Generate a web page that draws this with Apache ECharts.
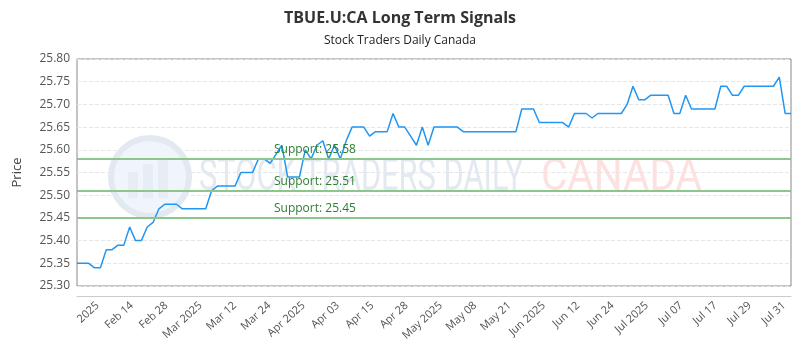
<!DOCTYPE html>
<html>
<head>
<meta charset="utf-8">
<script src="https://cdn.jsdelivr.net/npm/echarts@6/dist/echarts.min.js"></script>
<style>html,body{margin:0;padding:0;background:#fff}#c{width:800px;height:350px}</style>
</head>
<body>
<div id="c"></div>
<script>
const titleText = 'TBUE.U:CA Long Term Signals';
const subtitleText = 'Stock Traders Daily Canada';
const tickLabels = ['2025','Feb 14','Feb 28','Mar 2025','Mar 12','Mar 24','Apr 2025','Apr 03','Apr 15','Apr 28',
  'May 2025','May 08','May 21','Jun 2025','Jun 12','Jun 24','Jul 2025','Jul 07','Jul 17','Jul 29','Jul 31'];
const prices = [
  25.35,25.35,25.35,25.34,25.34,25.38,25.38,25.39,25.39,25.43,
  25.40,25.40,25.43,25.44,25.47,25.48,25.48,25.48,25.47,25.47,
  25.47,25.47,25.47,25.51,25.52,25.52,25.52,25.52,25.55,25.55,
  25.55,25.58,25.58,25.57,25.59,25.61,25.54,25.54,25.54,25.60,
  25.58,25.61,25.62,25.58,25.61,25.58,25.62,25.65,25.65,25.65,
  25.63,25.64,25.64,25.64,25.68,25.65,25.65,25.63,25.61,25.65,
  25.61,25.65,25.65,25.65,25.65,25.65,25.64,25.64,25.64,25.64,
  25.64,25.64,25.64,25.64,25.64,25.64,25.69,25.69,25.69,25.66,
  25.66,25.66,25.66,25.66,25.65,25.68,25.68,25.68,25.67,25.68,
  25.68,25.68,25.68,25.68,25.70,25.74,25.71,25.71,25.72,25.72,
  25.72,25.72,25.68,25.68,25.72,25.69,25.69,25.69,25.69,25.69,
  25.74,25.74,25.72,25.72,25.74,25.74,25.74,25.74,25.74,25.74,
  25.76,25.68,25.68
];
const supports = [25.58, 25.51, 25.45];
const supportPrefix = 'Support: ';
const watermarkMain = 'STOCK TRADERS DAILY';
const watermarkSub = 'CANADA';

const pointIndex = prices.map((_, i) => String(i));
// label axis: slots so labels land where the reference puts them
const SLOTS = 105, FIRST = 3, STEP = 5;
const labelSlots = new Array(SLOTS).fill('');
tickLabels.forEach((t, k) => { labelSlots[FIRST + STEP * k] = t; });

const chart = echarts.init(document.getElementById('c'), null, {renderer: 'canvas'});
chart.setOption({
  animation: false,
  textStyle: {fontFamily: 'Open Sans'},
  title: {
    text: titleText, subtext: subtitleText, left: 'center', top: 5, itemGap: 9,
    textStyle: {fontSize: 16, fontWeight: 'bold', color: '#333', fontFamily: 'Open Sans'},
    subtextStyle: {fontSize: 12, color: '#222', fontFamily: 'Open Sans'}
  },
  grid: {left: 77, right: 9, top: 59, bottom: 64, show: true, borderColor: '#888', borderWidth: 1, backgroundColor: 'transparent'},
  graphic: [
    {type: 'circle', z: 1, shape: {cx: 150, cy: 177, r: 39}, style: {fill: '#f0f5fb', stroke: '#e2e9f1', lineWidth: 6}},
    {type: 'rect', z: 1, shape: {x: 128, y: 172, width: 10, height: 26}, style: {fill: '#e6edf5'}},
    {type: 'rect', z: 1, shape: {x: 143, y: 164, width: 10, height: 34}, style: {fill: '#e6edf5'}},
    {type: 'rect', z: 1, shape: {x: 158, y: 158, width: 10, height: 40}, style: {fill: '#e6edf5'}},
    {type: 'text', z: 1, x: 199, y: 179, scaleX: 0.7, style: {text: watermarkMain, x: 0, y: 0, fill: '#e3e9f1', font: '44px Roboto', verticalAlign: 'middle'}},
    {type: 'text', z: 1, x: 541, y: 179, scaleX: 0.92, style: {text: watermarkSub, x: 0, y: 0, fill: '#fde1e1', font: '44px Roboto', verticalAlign: 'middle'}}
  ],
  xAxis: [
    {type: 'category', position: 'top', data: pointIndex, boundaryGap: false,
     axisLine: {show: false}, axisTick: {show: false}, axisLabel: {show: false}, splitLine: {show: false}},
    {type: 'category', position: 'bottom', data: labelSlots, boundaryGap: false, offset: 10,
     axisLine: {show: true, lineStyle: {color: '#ccc'}}, axisTick: {show: false},
     axisLabel: {interval: 0, rotate: 42, fontSize: 11, color: '#555', margin: 8},
     splitLine: {show: false}}
  ],
  yAxis: {
    type: 'value', min: 25.30, max: 25.80, interval: 0.05,
    name: 'Price', nameLocation: 'middle', nameGap: 53, nameRotate: 90,
    nameTextStyle: {fontSize: 13, color: '#444'},
    axisLine: {show: false}, axisTick: {show: false},
    axisLabel: {formatter: v => v.toFixed(2), fontSize: 12, color: '#555', margin: 7},
    splitLine: {show: true, lineStyle: {color: '#e6e6e6', type: 'dashed'}}
  },
  series: [{
    type: 'line', xAxisIndex: 0, data: prices, showSymbol: false, symbol: 'none', z: 3,
    lineStyle: {color: '#2196f3', width: 1.5},
    markLine: {
      silent: true, symbol: 'none',
      lineStyle: {color: '#8cc68c', width: 2, type: 'solid'},
      label: {position: 'insideStartTop', distance: [197, 3], formatter: p => supportPrefix + p.value.toFixed(2), color: '#2e7d32', fontSize: 12},
      data: supports.map(v => ({yAxis: v}))
    }
  }]
});
</script>
</body>
</html>
